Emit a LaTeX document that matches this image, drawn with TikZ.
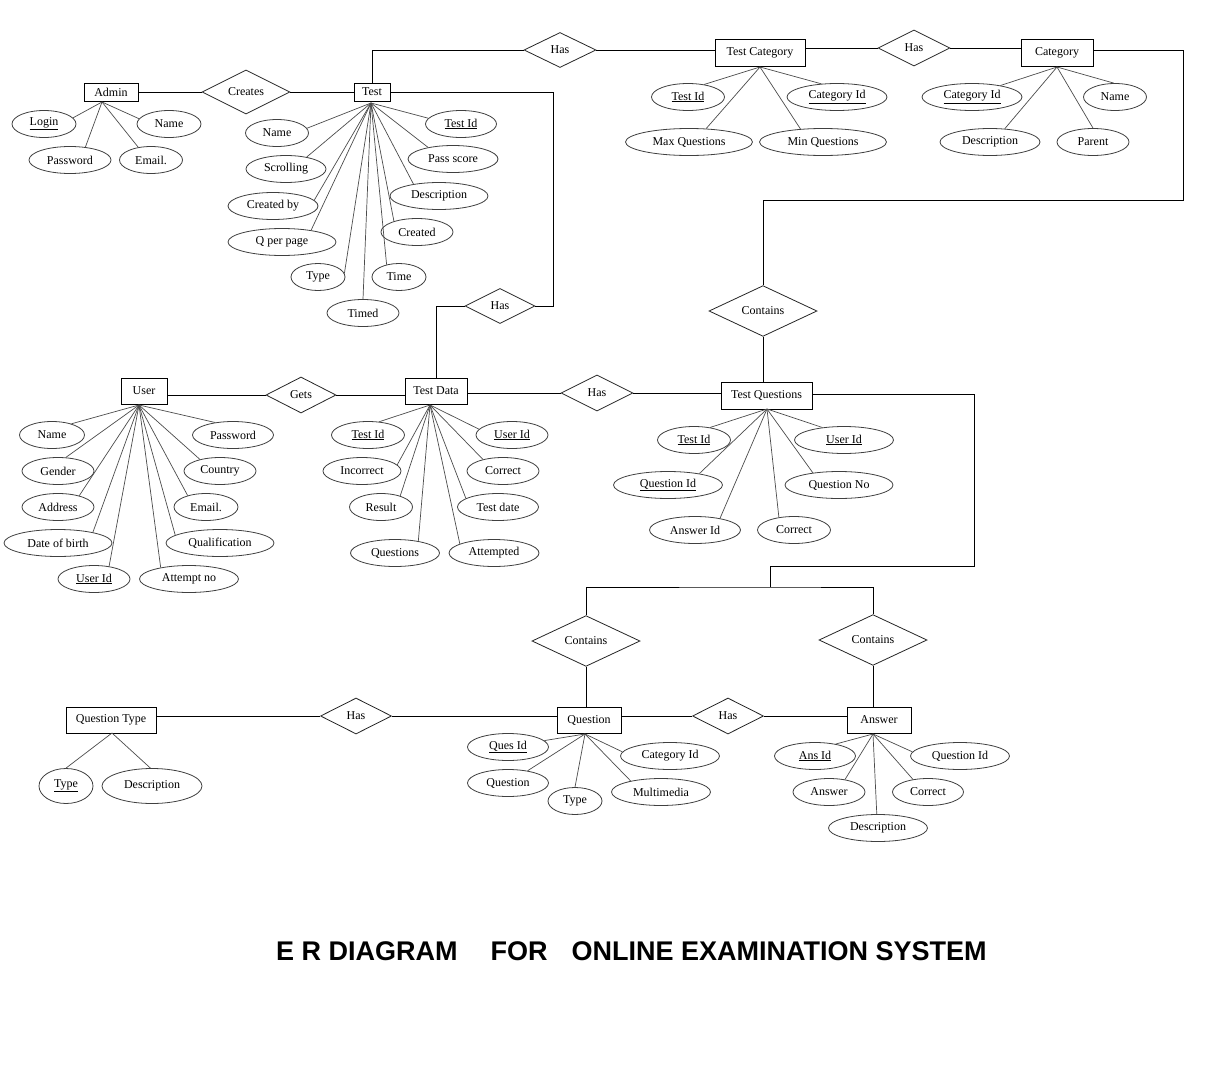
\documentclass[tikz,border=0pt]{standalone}
\usepackage{fontspec}
\setmainfont{Liberation Serif}
\newfontfamily\titlefont{Liberation Sans}
\usetikzlibrary{shapes.geometric}
\tikzset{
  ent/.style={draw=black, rectangle, inner sep=0pt, line width=0.9pt},
  rel/.style={draw=black!85, diamond, inner sep=0pt, line width=0.8pt},
  attr ell/.style={draw=black!75, ellipse, inner sep=0pt, minimum height=27pt, line width=0.8pt},
  attr line/.style={draw=black!70, line width=0.7pt},
  conn/.style={draw=black, line width=0.9pt},
}
\newcommand\ERattr[7]{%
  \node[attr ell, minimum width=#4pt] (#1) at (#2,#3) {#5};
  \draw[attr line] (#7) -- (#1.#6);}
\begin{document}
\begin{tikzpicture}[x=1pt, y=-1pt, font=\fontsize{12}{14}\selectfont]
\useasboundingbox (0,0) rectangle (1224,1084);
\fill[white] (0,0) rectangle (1224,1084);

% entities
\node[ent, minimum width=54pt, minimum height=18pt] (admin) at (111,92) {Admin};
\node[ent, minimum width=36pt, minimum height=18pt] (test) at (372,92) {Test};
\node[ent, minimum width=90pt, minimum height=27pt] (testcat) at (760,52.5) {Test Category};
\node[ent, minimum width=72pt, minimum height=27pt] (category) at (1057,52.5) {Category};
\node[ent, minimum width=46pt, minimum height=26pt] (user) at (144,391) {User};
\node[ent, minimum width=62pt, minimum height=26pt] (testdata) at (436,391) {Test Data};
\node[ent, minimum width=91pt, minimum height=27pt] (testq) at (766.5,395.5) {Test Questions};
\node[ent, minimum width=64pt, minimum height=26pt] (question) at (589,720) {Question};
\node[ent, minimum width=64pt, minimum height=26pt] (answer) at (879,720) {Answer};
\node[ent, minimum width=90pt, minimum height=26pt] (qtype) at (111,720) {Question Type};

% relationships
\node[rel, minimum width=88pt, minimum height=36pt] (creates) at (246,92) {Creates};
\node[rel, minimum width=72pt, minimum height=35pt] (has1) at (560,50) {Has};
\node[rel, minimum width=72pt, minimum height=36pt] (has2) at (914,48) {Has};
\node[rel, minimum width=108pt, minimum height=35pt] (contains1) at (763,311) {Contains};
\node[rel, minimum width=70pt, minimum height=35pt] (has3) at (500,306) {Has};
\node[rel, minimum width=70pt, minimum height=36pt] (gets) at (301,395) {Gets};
\node[rel, minimum width=72pt, minimum height=36pt] (has4) at (597,393) {Has};
\node[rel, minimum width=108pt, minimum height=36pt] (contains2) at (586,641) {Contains};
\node[rel, minimum width=108pt, minimum height=36pt] (contains3) at (873,640) {Contains};
\node[rel, minimum width=71pt, minimum height=36pt] (has5) at (728,716) {Has};
\node[rel, minimum width=71pt, minimum height=36pt] (has6) at (356,716) {Has};

% connectors
\draw[conn] (admin) -- (creates) -- (test);
\draw[conn] (test.north) |- (has1);
\draw[conn] (has1) -- (has1 -| testcat.west);
\draw[conn] (has2 -| testcat.east) -- (has2) -- (has2 -| category.west);
\coordinate (k1) at (1183,200);
\draw[conn] ([yshift=2.5pt]category.east) -| (k1) -| (contains1.north);
\draw[conn] (contains1.south) -- (contains1.south |- testq.north);
\coordinate (k2) at (553,306);
\draw[conn] (test.east) -| (k2) -- (has3);
\draw[conn] (has3) -| (testdata.north);
\draw[conn] (gets -| user.east) -- (gets) -- (gets -| testdata.west);
\draw[conn] (has4 -| testdata.east) -- (has4) -- (has4 -| testq.west);
\coordinate (k3) at (974,566);
\coordinate (k4) at (770,587);
\draw[conn] ([yshift=1.5pt]testq.east) -| (k3) -| (k4);
\draw[conn] (contains2.north) |- (k4) -| (contains3.north);
\draw[conn] (contains2.south) -- (contains2.south |- question.north);
\draw[conn] (contains3.south) -- (contains3.south |- answer.north);
\draw[conn] (has6 -| qtype.east) -- (has6) -- (has6 -| question.west);
\draw[conn] (has5 -| question.east) -- (has5) -- (has5 -| answer.west);

% hubs
\coordinate (adminhub) at (102,102);
\coordinate (testhub) at (371,103);
\coordinate (tchub) at (760,67);
\coordinate (cathub) at (1057,67);
\coordinate (userhub) at (139,405);
\coordinate (tdhub) at (430,405);
\coordinate (tqhub) at (767,409);
\coordinate (qhub) at (585,734);
\coordinate (ahub) at (873,734);
\coordinate (qthub) at (112,733);

% Admin attributes
\ERattr{aLogin}{44}{124}{64}{\underline{Login}}{12}{adminhub}
\ERattr{aName}{169}{124}{64}{Name}{170}{adminhub}
\ERattr{aPass}{70}{160}{82}{Password}{40}{adminhub}
\ERattr{aEmail}{151}{160}{63}{Email.}{135}{adminhub}

% Test attributes
\ERattr{tName}{277}{133}{63}{Name}{9}{testhub}
\ERattr{tScroll}{286}{169}{80}{Scrolling}{30}{testhub}
\ERattr{tCby}{273}{206}{90}{Created by}{8}{testhub}
\ERattr{tQpp}{282}{242}{108}{Q per page}{22}{testhub}
\ERattr{tType}{318}{277}{54}{Type}{8}{testhub}
\ERattr{tTimed}{363}{313}{72}{Timed}{90}{testhub}
\ERattr{tTime}{399}{277}{54}{Time}{135}{testhub}
\ERattr{tCreated}{417}{232}{72}{Created}{155}{testhub}
\ERattr{tDesc}{439}{196}{98}{Description}{155}{testhub}
\ERattr{tPass}{453}{159}{90}{Pass score}{155}{testhub}
\ERattr{tId}{461}{124}{71}{\underline{Test Id}}{170}{testhub}

% Test Category attributes
\ERattr{tcTestId}{688}{97}{73}{\underline{Test Id}}{38}{tchub}
\ERattr{tcCatId}{837}{97}{100}{\underline{Category Id}}{140}{tchub}
\ERattr{tcMax}{689}{142}{127}{Max Questions}{38}{tchub}
\ERattr{tcMin}{823}{142}{127}{Min Questions}{150}{tchub}

% Category attributes
\ERattr{cCatId}{972}{97}{100}{\underline{Category Id}}{22}{cathub}
\ERattr{cName}{1115}{97}{63}{Name}{95}{cathub}
\ERattr{cDesc}{990}{142}{100}{Description}{42}{cathub}
\ERattr{cParent}{1093}{142}{72}{Parent}{90}{cathub}

% User attributes
\ERattr{uName}{52}{435}{65}{Name}{30}{userhub}
\ERattr{uPass}{233}{435}{81}{Password}{145}{userhub}
\ERattr{uGender}{58}{471}{72}{Gender}{60}{userhub}
\ERattr{uCountry}{220}{471}{72}{Country}{150}{userhub}
\ERattr{uAddr}{58}{507}{72}{Address}{28}{userhub}
\ERattr{uEmail}{206}{507}{64}{Email.}{148}{userhub}
\ERattr{uDob}{58}{543}{108}{Date of birth}{17}{userhub}
\ERattr{uQual}{220}{543}{108}{Qualification}{170}{userhub}
\ERattr{uId}{94}{579}{72}{\underline{User Id}}{40}{userhub}
\ERattr{uAttempt}{189}{579}{99}{Attempt no}{158}{userhub}

% Test Data attributes
\ERattr{dTestId}{368}{435}{73}{\underline{Test Id}}{50}{tdhub}
\ERattr{dUserId}{512}{435}{72}{\underline{User Id}}{170}{tdhub}
\ERattr{dIncorrect}{362}{471}{78}{Incorrect}{10}{tdhub}
\ERattr{dCorrect}{503}{471}{72}{Correct}{150}{tdhub}
\ERattr{dResult}{381}{507}{63}{Result}{30}{tdhub}
\ERattr{dDate}{498}{507}{81}{Test date}{165}{tdhub}
\ERattr{dQuestions}{395}{553}{89}{Questions}{27}{tdhub}
\ERattr{dAttempted}{494}{553}{90}{Attempted}{165}{tdhub}

% Test Questions attributes
\ERattr{qTestId}{694}{440}{73}{\underline{Test Id}}{38}{tqhub}
\ERattr{qUserId}{844}{440}{99}{\underline{User Id}}{150}{tqhub}
\ERattr{qQid}{668}{485}{109}{\underline{Question Id}}{20}{tqhub}
\ERattr{qQno}{839}{485}{108}{Question No}{155}{tqhub}
\ERattr{qAid}{695}{530}{91}{Answer Id}{25}{tqhub}
\ERattr{qCorrect}{794}{530}{73}{Correct}{140}{tqhub}

% Question attributes
\ERattr{quId}{508}{747}{81}{\underline{Ques Id}}{10}{qhub}
\ERattr{quQuestion}{508}{783}{81}{Question}{32}{qhub}
\ERattr{quType}{575}{801}{54}{Type}{90}{qhub}
\ERattr{quCat}{670}{756}{99}{Category Id}{175}{qhub}
\ERattr{quMulti}{661}{792}{99}{Multimedia}{160}{qhub}

% Answer attributes
\ERattr{anId}{815}{756}{81}{\underline{Ans Id}}{30}{ahub}
\ERattr{anQid}{960}{756}{99}{Question Id}{175}{ahub}
\ERattr{anAnswer}{829}{792}{72}{Answer}{38}{ahub}
\ERattr{anCorrect}{928}{792}{71}{Correct}{140}{ahub}
\ERattr{anDesc}{878}{828}{99}{Description}{95}{ahub}

% Question Type attributes
\node[attr ell, minimum width=54pt, minimum height=35pt] (qtType) at (66,786) {\underline{Type}};
\draw[attr line] (qthub) -- (qtType.90);
\node[attr ell, minimum width=100pt, minimum height=35pt] (qtDesc) at (152,786) {Description};
\draw[attr line] (qthub) -- (qtDesc.95);

% title
\node[anchor=west, inner sep=0pt, font=\titlefont\bfseries\fontsize{27}{31}\selectfont] (title) at (276,951)
  {E R DIAGRAM\hspace{33pt}FOR\hspace{24pt}ONLINE EXAMINATION SYSTEM};
\end{tikzpicture}
\end{document}
